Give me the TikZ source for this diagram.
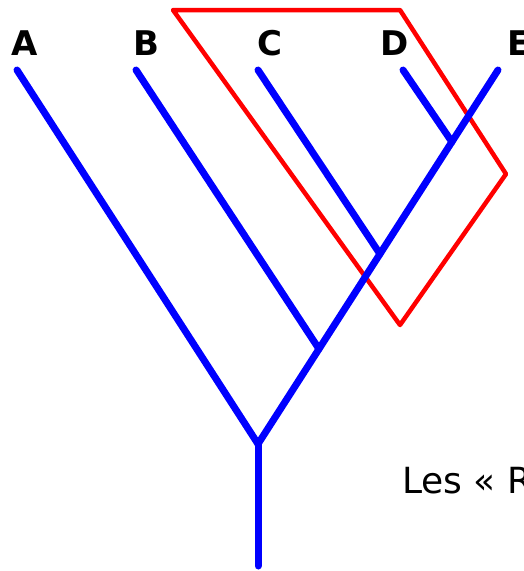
\documentclass[tikz,border=0pt]{standalone}
\usepackage{fontspec}
\setmainfont{DejaVu Sans}
\usetikzlibrary{positioning}

\tikzset{
	branch/.style={draw=blue, line width=7pt, line cap=round, line join=round},
	clade/.style={draw=red, line width=4.5pt, line cap=round, line join=round},
	taxon/.style={font=\fontsize{34}{34}\selectfont\bfseries, anchor=base, inner sep=0pt}
}

\begin{document}
\begin{tikzpicture}[x=1pt,y=-1pt]
	\useasboundingbox (0,0) rectangle (524,571);
	% tips, junctions
	\coordinate (tA) at (17,70);
	\coordinate (tB) at (136,70);
	\coordinate (tC) at (258,70);
	\coordinate (tD) at (403,70);
	\coordinate (tE) at (498,70);
	\coordinate (root) at (258,444);
	\coordinate (stem) at (258,566);
	\coordinate (jB) at (319,349);
	\coordinate (jC) at (380,254);
	\coordinate (jD) at (452,142);
	% red outline
	\coordinate (r1) at (173,10);
	\coordinate (r2) at (400,10);
	\coordinate (r3) at (506,174);
	\coordinate (r4) at (400,325);
	\draw[clade] (r1) -- (r2) -- (r3) -- (r4) -- cycle;
	% tree
	\path[branch]
		(stem) edge (root)
		(root) edge (tA) edge (tE)
		(jB) edge (tB)
		(jC) edge (tC)
		(jD) edge (tD);
	% labels
	\node[taxon] (lA) at (24.5,55) {A};
	\node[taxon] (lB) at (146,55) {B};
	\node[taxon] (lC) at (269.5,55) {C};
	\node[taxon] (lD) at (395,55) {D};
	\node[taxon] (lE) at (519.5,55) {E};
	\node[font=\fontsize{36}{36}\selectfont, anchor=base west, inner sep=0pt] (title) at (402,493) {Les « R};
\end{tikzpicture}
\end{document}
